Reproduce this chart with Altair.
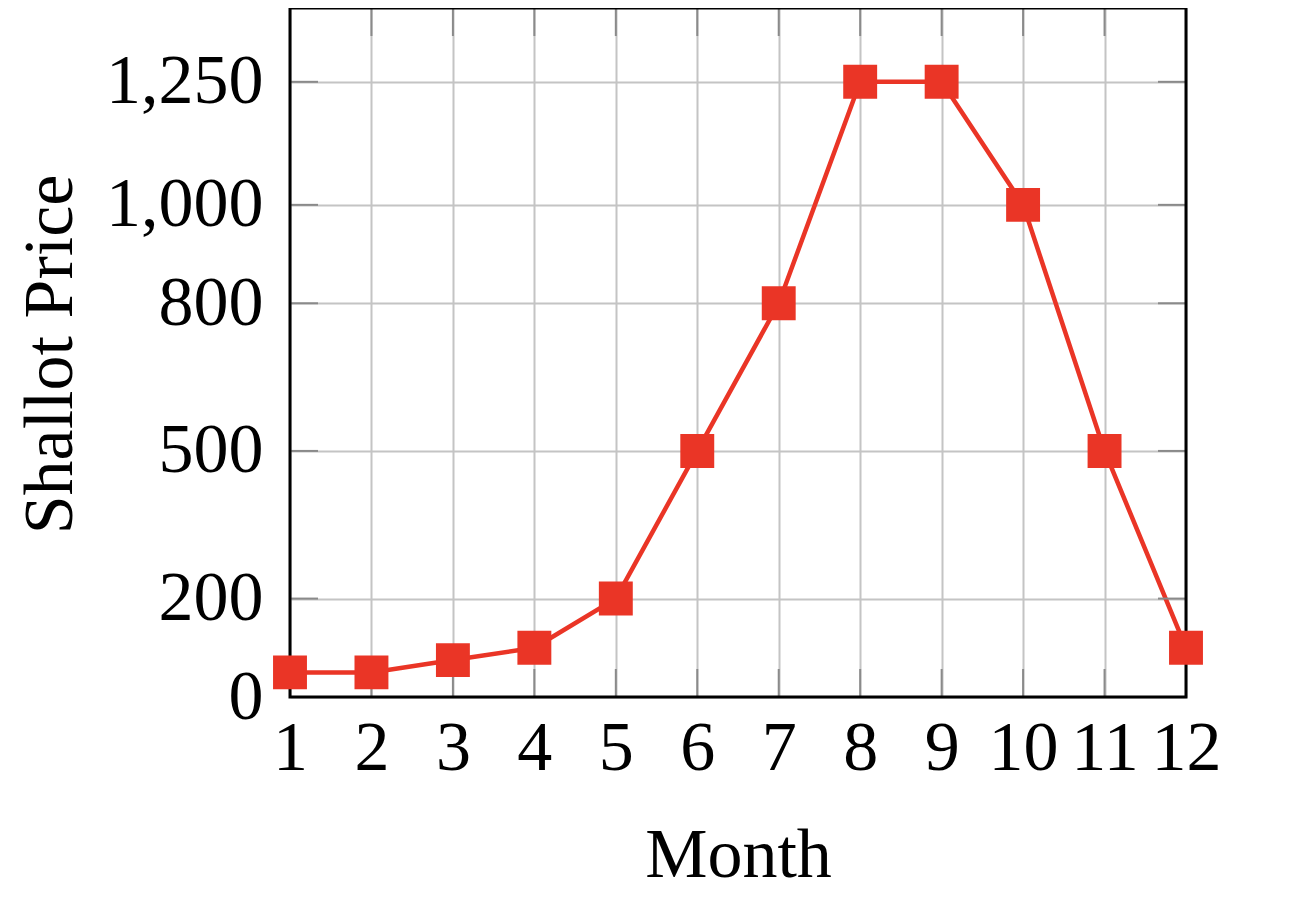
import altair as alt
import pandas as pd

months = [1, 2, 3, 4, 5, 6, 7, 8, 9, 10, 11, 12]
prices = [50, 50, 75, 100, 200, 500, 800, 1250, 1250, 1000, 500, 100]
month_ticks = [1, 2, 3, 4, 5, 6, 7, 8, 9, 10, 11, 12]
price_ticks = [0, 200, 500, 800, 1000, 1250]

W, H = 896, 689
TL = 28
RED = "#EA3526"
FONT = "Liberation Serif"

df = pd.DataFrame({"month": months, "price": prices})
mt = pd.DataFrame({"month": month_ticks})
pt = pd.DataFrame({"price": price_ticks})
one = pd.DataFrame({"k": [0]})

xscale = alt.Scale(domain=[1, 12], nice=False, zero=False)
yscale = alt.Scale(domain=[0, 1400], nice=False)

xaxis = alt.Axis(values=month_ticks, format="d", ticks=False, domain=False,
                 grid=True, gridColor="#c4c4c4", gridWidth=2,
                 labelFont=FONT, labelFontSize=70, labelColor="black",
                 labelPadding=17, labelFlush=False, labelOverlap=False,
                 title="Month", titleFont=FONT, titleFontSize=70,
                 titleFontWeight="normal", titleColor="black",
                 titleX=448, titleY=179, titleBaseline="alphabetic",
                 titleAlign="center")
yaxis = alt.Axis(values=price_ticks, format=",d", ticks=False, domain=False,
                 grid=True, gridColor="#c4c4c4", gridWidth=2,
                 labelFont=FONT, labelFontSize=70, labelColor="black",
                 labelPadding=27, labelFlush=False, labelOverlap=False,
                 labelLimit=400,
                 title="Shallot Price", titleFont=FONT, titleFontSize=70,
                 titleFontWeight="normal", titleColor="black",
                 titleX=-219, titleY=346, titleBaseline="alphabetic",
                 titleAlign="center", titleAngle=-90)

X = alt.X("month:Q", scale=xscale, axis=xaxis)
Y = alt.Y("price:Q", scale=yscale, axis=yaxis)

line = alt.Chart(df).mark_line(color=RED, strokeWidth=4.5).encode(x=X, y=Y)
pts = alt.Chart(df).mark_point(shape="square", filled=True, color=RED,
                               size=1150, opacity=1).encode(x=X, y=Y)

tick_style = dict(color="#8a8a8a", strokeWidth=2)
left_t = alt.Chart(pt).mark_rule(**tick_style).encode(
    y=Y, x=alt.value(0), x2=alt.value(TL))
right_t = alt.Chart(pt).mark_rule(**tick_style).encode(
    y=Y, x=alt.value(W - TL), x2=alt.value(W))
bot_t = alt.Chart(mt).mark_rule(**tick_style).encode(
    x=X, y=alt.value(H), y2=alt.value(H - TL))
top_t = alt.Chart(mt).mark_rule(**tick_style).encode(
    x=X, y=alt.value(0), y2=alt.value(TL))

frame = alt.Chart(one).mark_rect(fill=None, fillOpacity=0, stroke="black",
                                 strokeWidth=3).encode(
    x=alt.value(0), x2=alt.value(W), y=alt.value(0), y2=alt.value(H))

chart = alt.layer(line, left_t, right_t, bot_t, top_t, frame, pts).properties(
    width=W, height=H,
    background="white",
    autosize=alt.AutoSizeParams(type="none"),
    padding={"left": 282, "top": 0, "right": 100, "bottom": 197},
).configure_view(stroke=None)

chart.save("out.html", embed_options={"renderer": "svg", "actions": False})
